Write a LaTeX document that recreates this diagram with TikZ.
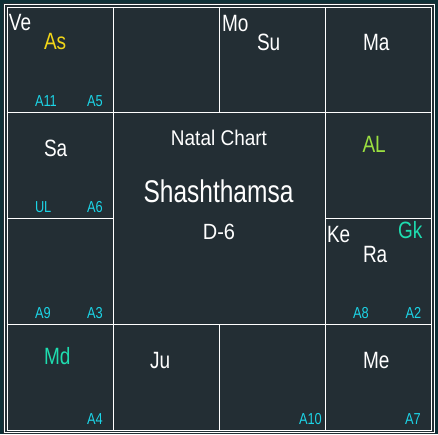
\documentclass[tikz,border=0pt]{standalone}
\usepackage{fontspec}
\setmainfont{Liberation Sans}
\definecolor{marginbg}{HTML}{0E2F36}
\definecolor{cellbg}{HTML}{232E34}
\definecolor{ascol}{HTML}{F2D618}
\definecolor{alcol}{HTML}{9BE040}
\definecolor{gkcol}{HTML}{1EDDB0}
\definecolor{acol}{HTML}{1CD4E6}
\newcommand\vs[2][1.24]{\scalebox{1}[#1]{#2}}
\tikzset{
  gridline/.style={draw=white, line width=1pt},
  lbl/.style={inner sep=0pt, outer sep=0pt, anchor=base west},
  planet/.style={lbl, font=\fontsize{19pt}{19pt}\selectfont, text=white},
  smalllbl/.style={lbl, font=\fontsize{12.8pt}{13pt}\selectfont, text=acol},
  titletxt/.style={inner sep=0pt, outer sep=0pt, anchor=base, text=white}
}
\begin{document}
\begin{tikzpicture}[x=1pt,y=-1pt]
\fill[marginbg] (0,0) rectangle (438,434);
\useasboundingbox (0,0) rectangle (438,434);
\fill[cellbg] (3,3) rectangle (435,433.5);
\draw[gridline] (4,4) rectangle (434,432.5);
\draw[gridline] (7.5,7.5) rectangle (431,430);
% grid
\draw[gridline] (113,7.5) -- (113,430);
\draw[gridline] (325.5,7.5) -- (325.5,430);
\draw[gridline] (219,7.5) -- (219,112);
\draw[gridline] (219,324.5) -- (219,430);
\draw[gridline] (7.5,112) -- (431,112);
\draw[gridline] (7.5,324.5) -- (431,324.5);
\draw[gridline] (7.5,218) -- (113,218);
\draw[gridline] (325.5,218) -- (431,218);
% house 1 (top-left)
\node[planet] (ve) at (9,30) {\vs{Ve}};
\node[planet, text=ascol] (as) at (44,49) {\vs{As}};
\node[smalllbl] (a11) at (35,106) {\vs{A11}};
\node[smalllbl] (a5) at (87,106) {\vs{A5}};
% top row
\node[planet] (mo) at (222,31) {\vs{Mo}};
\node[planet] (su) at (257,50) {\vs{Su}};
\node[planet] (ma) at (363,50) {\vs{Ma}};
% left column
\node[planet] (sa) at (44,156.5) {\vs{Sa}};
\node[smalllbl] (ul) at (35,212) {\vs{UL}};
\node[smalllbl] (a6) at (87,212) {\vs{A6}};
\node[smalllbl] (a9) at (35,318) {\vs{A9}};
\node[smalllbl] (a3) at (87,318) {\vs{A3}};
% right column
\node[planet, text=alcol] (al) at (362.5,152.5) {\vs{AL}};
\node[planet] (ke) at (327,242) {\vs{Ke}};
\node[planet, text=gkcol] (gk) at (398,238) {\vs{Gk}};
\node[planet] (ra) at (363,262) {\vs{Ra}};
\node[smalllbl] (a8) at (353,318) {\vs{A8}};
\node[smalllbl] (a2) at (405.5,318) {\vs{A2}};
% bottom row
\node[planet, text=gkcol] (md) at (44,364) {\vs{Md}};
\node[planet] (ju) at (150,368) {\vs{Ju}};
\node[planet] (me) at (363,368) {\vs{Me}};
\node[smalllbl] (a4) at (87,424) {\vs{A4}};
\node[smalllbl] (a10) at (299,424) {\vs{A10}};
\node[smalllbl] (a7) at (405,424) {\vs{A7}};
% centre
\node[titletxt, font=\fontsize{19pt}{19pt}\selectfont] (natal) at (219,145.5) {\vs[1.12]{Natal Chart}};
\node[titletxt, font=\fontsize{24.5pt}{25pt}\selectfont] (shash) at (218.5,202.5) {\vs[1.28]{Shashthamsa}};
\node[titletxt, font=\fontsize{20pt}{20pt}\selectfont] (d6) at (219,239) {\vs[1.1]{D-6}};
\end{tikzpicture}
\end{document}
